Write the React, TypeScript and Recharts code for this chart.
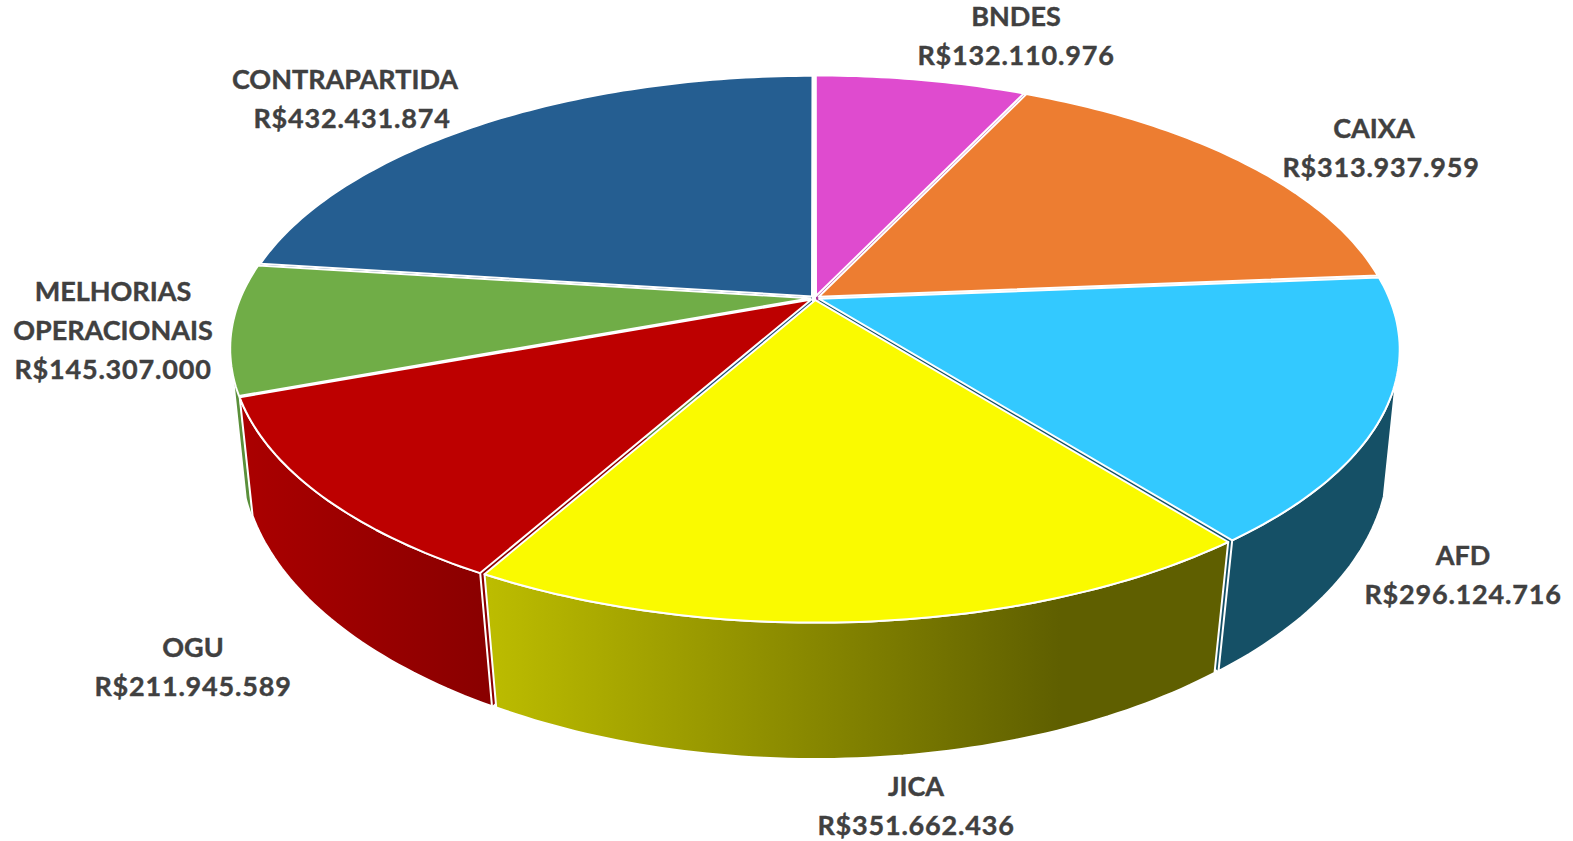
import { PieChart, Pie } from 'recharts';

const categories = ['BNDES', 'CAIXA', 'AFD', 'JICA', 'OGU', 'MELHORIAS OPERACIONAIS', 'CONTRAPARTIDA'];
const amounts = [132110976, 313937959, 296124716, 351662436, 211945589, 145307000, 432431874];
const topColors = ['#df4bcf', '#ed7d31', '#33c9ff', '#fafa00', '#bd0000', '#70ad47', '#255e91'];
const sideColors = ['#a8389c', '#d9d4d0', '#155066', '#5f5f00', '#8c0000', '#5a8f3a', '#1c4a73'];

const chartData = categories.map((name, i) => ({ name, value: amounts[i], fill: topColors[i], side: sideColors[i] }));

// value centre x, first baseline y, shift of the name lines against the value
const LABEL_POS: Record<string, [number, number, number]> = {
  BNDES: [1016, 26, 0],
  CAIXA: [1381, 138, -7],
  AFD: [1463, 565, 0],
  JICA: [916, 796, 0],
  OGU: [193, 657, 0],
  'MELHORIAS OPERACIONAIS': [113, 301, 0],
  CONTRAPARTIDA: [352, 89, -7],
};

const CX = 815;
const CY = 298;
const RADIUS = 570;
// perspective of the tilted disc, top rim
const K = 0.185;
const TOP_B = 262;
// lower rim has its own projection
const LOW_K = 0.165;
const LOW_A = 0.985;
const LOW_B = 292;
const LOW_DY = 108;
const EXPLODE = 0.008;
// clock angles where the wall silhouette starts
const WALL_FROM = 107;
const WALL_TO = 252.6;

const rad = (d: number) => (d * Math.PI) / 180;

function project(clock: number, r: number, mid: number, low: boolean) {
  const u = r * Math.sin(rad(clock)) + EXPLODE * Math.sin(rad(mid));
  const v = r * Math.cos(rad(clock)) + EXPLODE * Math.cos(rad(mid));
  if (low) {
    const den = 1 + LOW_K * v;
    return [CX + (RADIUS * LOW_A * u) / den, CY + LOW_DY - (LOW_B * v) / den];
  }
  const den = 1 + K * v;
  return [CX + (RADIUS * u) / den, CY - (TOP_B * v) / den];
}

function arc(from: number, to: number, mid: number, low: boolean) {
  const pts: number[][] = [];
  const n = Math.max(2, Math.ceil(Math.abs(to - from)));
  for (let i = 0; i <= n; i++) {
    pts.push(project(from + ((to - from) * i) / n, 1, mid, low));
  }
  return pts;
}

const toPath = (pts: number[][]) =>
  'M' + pts.map((p) => `${p[0].toFixed(1)},${p[1].toFixed(1)}`).join('L') + 'Z';

function angles(props: any) {
  const from = 90 - props.startAngle;
  const to = 90 - props.endAngle;
  return { from, to, mid: (from + to) / 2 };
}

// the cut face seen through the gap between two slices
function BackShape(props: any) {
  const { from, to, mid } = angles(props);
  const faces: JSX.Element[] = [];
  const at = to <= 180 ? to : from >= 180 ? from : null;
  if (at !== null) {
    const d = toPath([
      project(at, 0, mid, false),
      project(at, 1, mid, false),
      project(at, 1, mid, true),
      project(at, 0, mid, true),
    ]);
    faces.push(<path key="face" d={d} fill={props.side} />);
  }
  if (props.name === 'MELHORIAS OPERACIONAIS') {
    const end = Math.min(to, WALL_TO);
    const d = toPath([...arc(from, end, mid, false), ...arc(end, from, mid, true)]);
    faces.push(<path key="wall" d={d} fill={props.side} />);
  }
  return <g>{faces}</g>;
}

function WallShape(props: any) {
  const { from, to, mid } = angles(props);
  const start = Math.max(from, WALL_FROM);
  const end = Math.min(to, WALL_TO);
  if (props.name === 'MELHORIAS OPERACIONAIS' || start >= end) return <g />;
  const d = toPath([...arc(start, end, mid, false), ...arc(end, start, mid, true)]);
  let fill = props.side;
  if (props.name === 'JICA') fill = 'url(#wallJica)';
  if (props.name === 'OGU') fill = 'url(#wallOgu)';
  return (
    <g>
      <defs>
        <linearGradient id="wallJica" gradientUnits="userSpaceOnUse" x1={490} x2={1060} y1={0} y2={0}>
          <stop offset="0" stopColor="#bcbc00" />
          <stop offset="1" stopColor="#5f5f00" />
        </linearGradient>
        <linearGradient id="wallOgu" gradientUnits="userSpaceOnUse" x1={245} x2={485} y1={0} y2={0}>
          <stop offset="0" stopColor="#aa0000" />
          <stop offset="1" stopColor="#8a0000" />
        </linearGradient>
      </defs>
      <path d={d} fill={fill} stroke="#fff" strokeWidth={2} strokeLinejoin="round" />
    </g>
  );
}

function TopShape(props: any) {
  const { from, to, mid } = angles(props);
  const d = toPath([project(mid, 0, mid, false), ...arc(from, to, mid, false)]);
  return <path d={d} fill={props.fill} stroke="#fff" strokeWidth={2} strokeLinejoin="round" />;
}

const formatBRL = (v: number) => 'R$' + String(v).replace(/\B(?=(\d{3})+$)/g, '.');

function renderLabel(props: any) {
  const [x, y, nameDx] = LABEL_POS[props.name];
  const names = String(props.name).split(' ');
  return (
    <text
      x={x}
      y={y}
      textAnchor="middle"
      fontFamily="Lato"
      fontWeight={700}
      fontSize={27}
      fill="#404040"
      stroke="#404040"
      strokeWidth={0.4}
    >
      {names.map((line, i) => (
        <tspan key={line} x={x + nameDx} y={y + i * 39}>
          {line}
        </tspan>
      ))}
      <tspan x={x} y={y + names.length * 39} letterSpacing={0.8}>
        {formatBRL(props.value)}
      </tspan>
    </text>
  );
}

export default function App() {
  const pieProps = {
    data: chartData,
    dataKey: 'value',
    nameKey: 'name',
    cx: CX,
    cy: CY,
    innerRadius: 0,
    outerRadius: RADIUS,
    startAngle: 90,
    endAngle: -270,
    paddingAngle: 0,
    isAnimationActive: false,
  };
  return (
    <div style={{ position: 'absolute', left: 0, top: 0, width: 1573, height: 841, overflow: 'hidden', background: '#fff' }}>
      <PieChart width={1573} height={841} margin={{ top: 0, right: 0, bottom: 0, left: 0 }}>
        <Pie {...pieProps} shape={BackShape} label={false} />
        <Pie {...pieProps} shape={WallShape} label={false} />
        <Pie {...pieProps} shape={TopShape} label={renderLabel} labelLine={false} />
      </PieChart>
    </div>
  );
}
